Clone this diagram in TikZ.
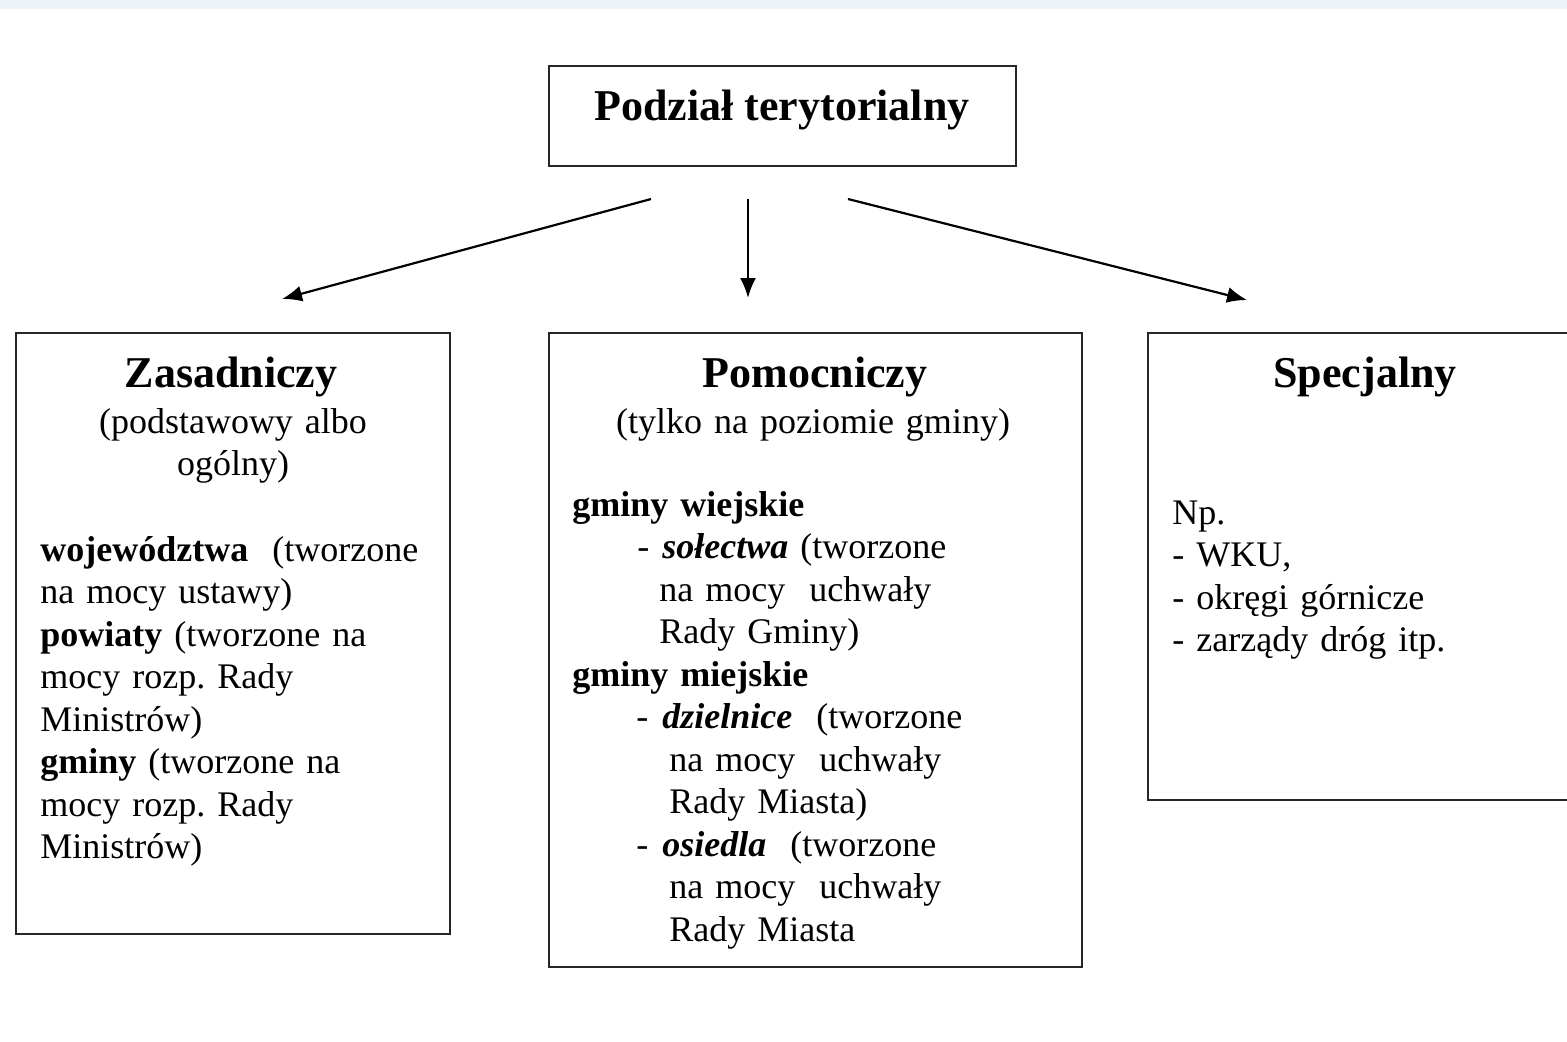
\documentclass[tikz,border=0pt]{standalone}
\usepackage{fontspec}
\setmainfont{Liberation Serif}
\usetikzlibrary{arrows.meta}
\definecolor{band}{HTML}{EEF3FA}
\tikzset{
    box/.style={draw=black!85, line width=1pt, inner sep=0pt},
    head/.style={font=\fontsize{22}{26}\selectfont\bfseries, anchor=base, inner sep=0pt},
    sub/.style={font=\fontsize{18}{21.25}\selectfont, anchor=base, align=center, text width=200pt, inner sep=0pt},
    body/.style={font=\fontsize{18}{21.25}\selectfont, anchor=base west, align=left, text width=240pt, inner sep=0pt},
    arr/.style={line width=1.1pt, -{Latex[length=10pt,width=8pt]}}
}
\begin{document}
\begin{tikzpicture}[x=0.5pt, y=-0.5pt]
    \useasboundingbox (0,0) rectangle (1567,1041);
    \clip (0,0) rectangle (1567,1041);
    \fill[band] (0,0) rectangle (1567,9);

    % Draw the top box
    \node[box, minimum width=233.5pt, minimum height=50pt] (podzial) at (782.5,116) {};
    \node[head] (podzialtxt) at (782,120) {Podział terytorialny};

    % Draw the three boxes below
    \node[box, minimum width=217pt, minimum height=300.5pt] (zas) at (233,633.5) {};
    \node[box, minimum width=266.5pt, minimum height=317pt] (pom) at (815.5,650) {};
    \node[box, minimum width=218.5pt, minimum height=233.5pt] (spec) at (1366.5,566.5) {};

    % Headings
    \node[head] (zashead) at (231,387) {Zasadniczy};
    \node[sub] (zassub) at (233,433) {(podstawowy albo\\ ogólny)};
    \node[head] (pomhead) at (815,387) {Pomocniczy};
    \node[sub] (pomsub) at (813,433) {(tylko na poziomie gminy)};
    \node[head] (spechead) at (1365,387) {Specjalny};

    % Texts in the boxes
    \node[body] (zastxt) at (40,561) {\textbf{województwa} \ (tworzone\\ na mocy ustawy)\\ \textbf{powiaty} (tworzone na\\ mocy rozp.\ Rady\\ Ministrów)\\ \textbf{gminy} (tworzone na\\ mocy rozp.\ Rady\\ Ministrów)};
    \node[body] (pomtxt) at (572,516) {\textbf{gminy wiejskie}\\
        \hspace*{32.5pt}\makebox[12.5pt][l]{-}\textbf{\textit{sołectwa}} (tworzone\\
        \hspace*{43.5pt}na mocy \ uchwały\\
        \hspace*{43.5pt}Rady Gminy)\\
        \textbf{gminy miejskie}\\
        \hspace*{32pt}\makebox[13pt][l]{-}\textbf{\textit{dzielnice}} \ (tworzone\\
        \hspace*{48.5pt}na mocy \ uchwały\\
        \hspace*{48.5pt}Rady Miasta)\\
        \hspace*{32pt}\makebox[13pt][l]{-}\textbf{\textit{osiedla}} \ (tworzone\\
        \hspace*{48.5pt}na mocy \ uchwały\\
        \hspace*{48.5pt}Rady Miasta};
    \node[body] (spectxt) at (1172,524) {Np.\\ - WKU,\\ - okręgi górnicze\\ - zarządy dróg itp.};

    % Draw the arrows
    \coordinate (zs) at (651,199);
    \coordinate (ze) at (282,299);
    \coordinate (ps) at (748,199);
    \coordinate (pe) at (748,298);
    \coordinate (ss) at (848,199);
    \coordinate (se) at (1247,300);
    \draw[arr] (zs) -- (ze); % to Zasadniczy
    \draw[arr] (ps) -- (pe); % to Pomocniczy
    \draw[arr] (ss) -- (se); % to Specjalny

\end{tikzpicture}
\end{document}
